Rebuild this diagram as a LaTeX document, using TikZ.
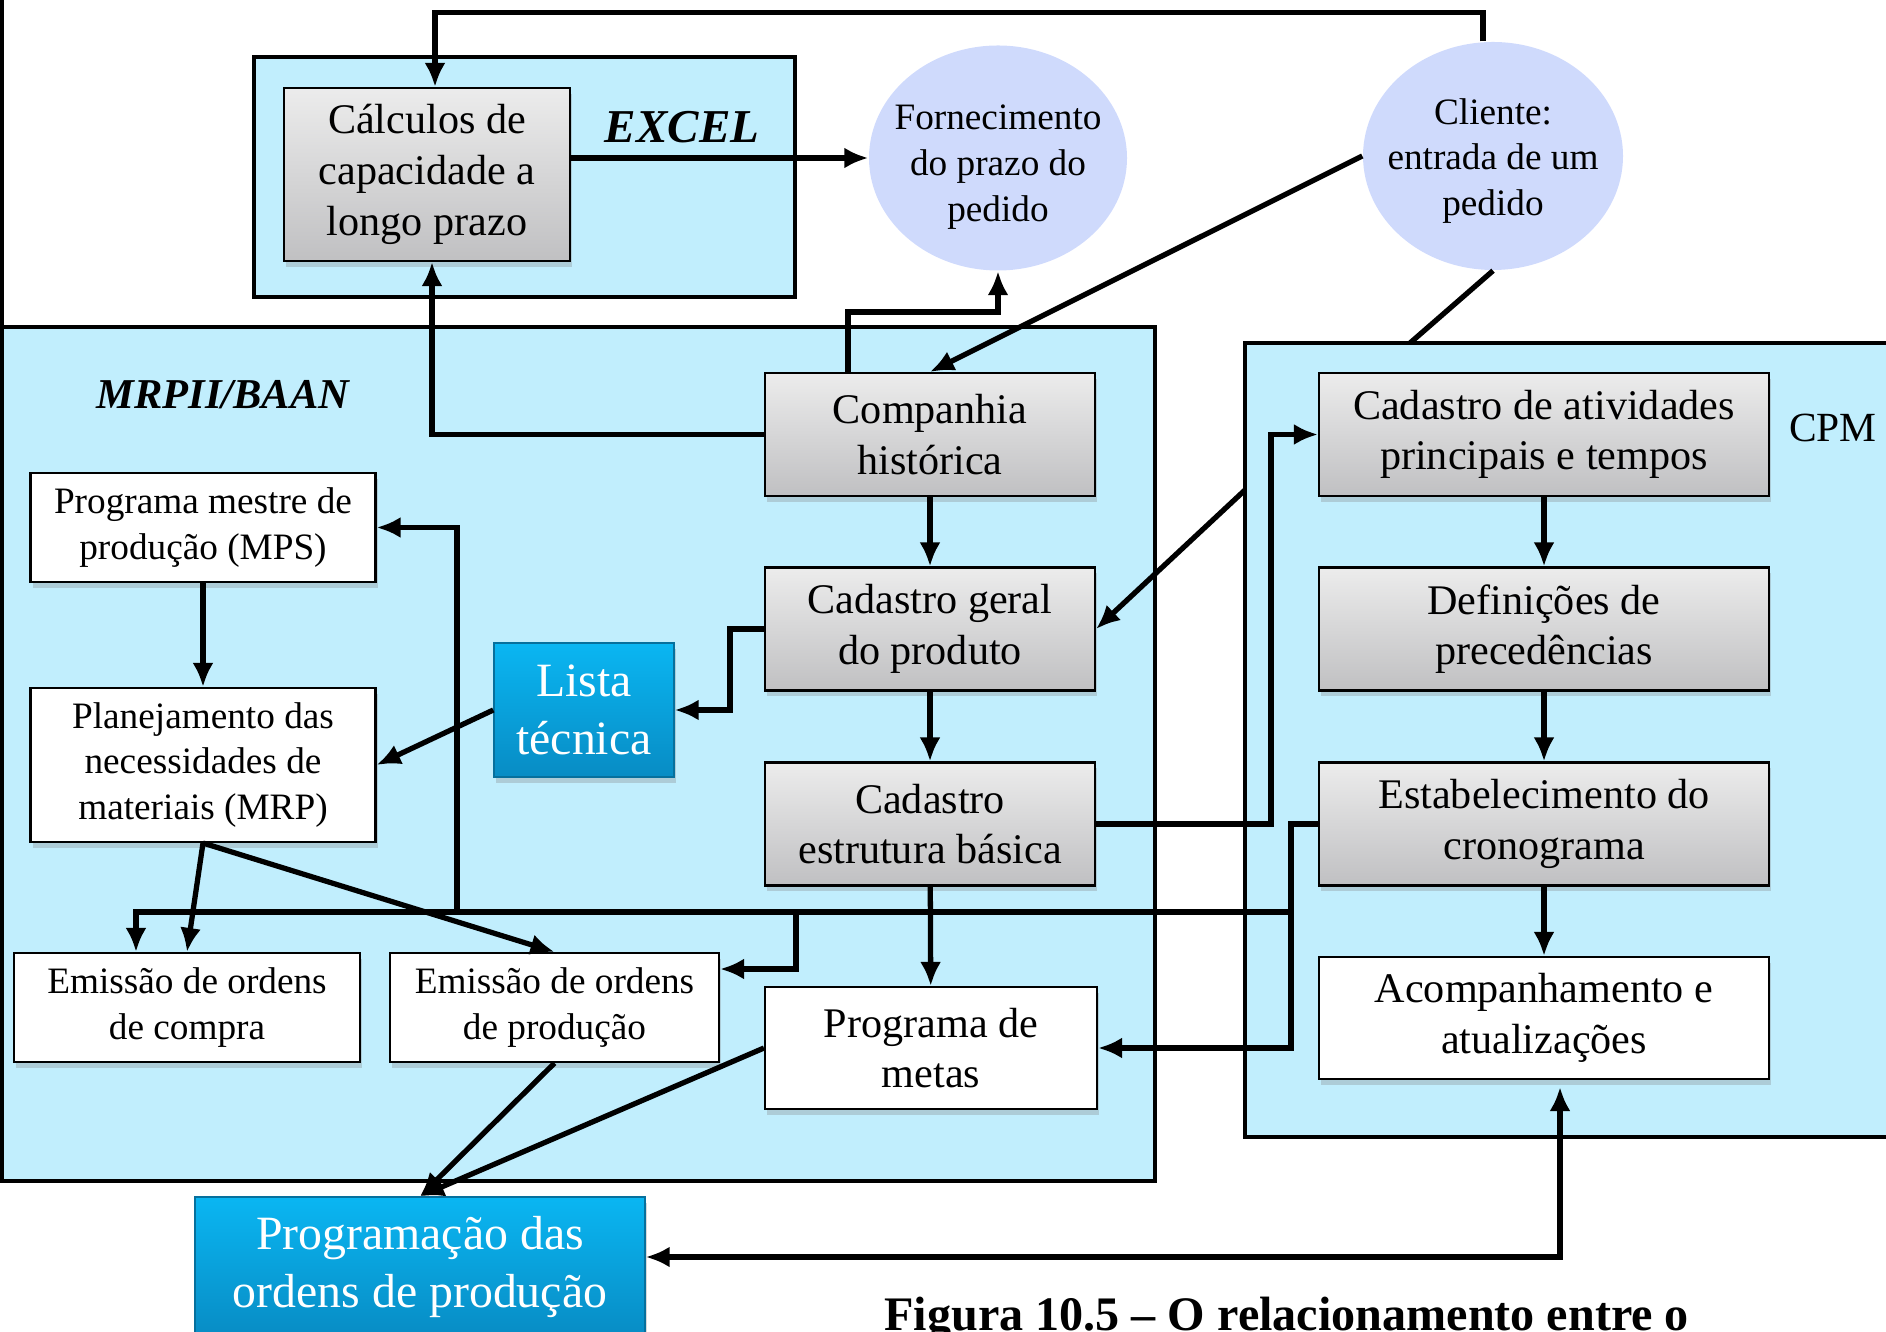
\documentclass[tikz,border=0pt]{standalone}
\usepackage{fontspec}
\setmainfont{Liberation Serif}
\usepackage{xcolor}
\usepackage{tikz}
\usetikzlibrary{shapes.geometric, arrows.meta, positioning, calc, shadows}

\definecolor{areafill}{RGB}{193,238,253}
\definecolor{ovalfill}{RGB}{207,218,252}
\definecolor{boxtop}{RGB}{236,236,236}
\definecolor{boxbot}{RGB}{192,192,194}
\definecolor{bluetop}{RGB}{10,182,242}
\definecolor{bluebot}{RGB}{8,140,196}

\begin{document}
\begin{tikzpicture}[
    >={Latex[length=2.4mm,width=2.1mm]},
    area/.style={draw=black, fill=areafill, line width=1.2pt},
    oval/.style={ellipse, fill=ovalfill, inner sep=0pt},
    ovaltext/.style={align=center, inner sep=0pt, font=\fontsize{10.6}{13}\selectfont},
    graybox/.style={draw=black, line width=0.6pt, top color=boxtop, bottom color=boxbot,
        align=center, inner sep=0pt, font=\fontsize{12}{14.4}\selectfont,
        drop shadow={shadow xshift=0.6pt, shadow yshift=-1.6pt, opacity=0.3}},
    whitebox/.style={graybox, top color=white, bottom color=white},
    smallbox/.style={whitebox, font=\fontsize{10.6}{13}\selectfont},
    bluebox/.style={draw=bluebot!80!black, line width=0.4pt, top color=bluetop, bottom color=bluebot,
        text=white, align=center, inner sep=0pt, font=\fontsize{13.6}{16.4}\selectfont,
        drop shadow={shadow xshift=0.6pt, shadow yshift=-1.6pt, opacity=0.3}},
    conn/.style={line width=1.5pt, ->},
    link/.style={line width=1.5pt}
]
\useasboundingbox (0,0) rectangle (18.86,-13.32);

% areas
\draw[line width=1pt] (0.02,0) -- (0.02,-3.27);
\draw[area] (2.54,-0.57) rectangle (7.95,-2.97);
\draw[area, line width=1pt] (0.02,-3.27) rectangle (11.55,-11.81);
\draw[area, line width=1pt] (12.45,-3.43) rectangle (19.6,-11.37);
\node[font=\fontsize{13.4}{16}\selectfont\bfseries\itshape] (excel) at (6.82,-1.27) {EXCEL};
\node[font=\fontsize{12.1}{14}\selectfont\bfseries\itshape] (mrpii) at (2.23,-3.95) {MRPII/BAAN};
\node[font=\fontsize{11.8}{14}\selectfont] (cpm) at (18.33,-4.28) {CPM};

% ovals
\node[oval, minimum width=2.58cm, minimum height=2.25cm] (forn) at (9.98,-1.58) {};
\node[ovaltext] (forntxt) at ([yshift=-0.09cm]forn.center) {Fornecimento\\do prazo do\\pedido};
\node[oval, minimum width=2.60cm, minimum height=2.28cm] (cli) at (14.93,-1.56) {};
\node[ovaltext] (clitxt) at ([yshift=-0.05cm]cli.center) {Cliente:\\entrada de um\\pedido};

% boxes
\node[graybox, minimum width=2.86cm, minimum height=1.73cm] (calc) at (4.27,-1.745) {Cálculos de\\capacidade a\\longo prazo};
\node[graybox, minimum width=3.30cm, minimum height=1.23cm] (comp) at (9.30,-4.345) {Companhia\\histórica};
\node[graybox, minimum width=3.30cm, minimum height=1.23cm] (geral) at (9.30,-6.29) {Cadastro geral\\do produto};
\node[graybox, minimum width=3.30cm, minimum height=1.23cm] (estr) at (9.30,-8.24) {Cadastro\\estrutura básica};
\node[whitebox, minimum width=3.32cm, minimum height=1.22cm] (metas) at (9.31,-10.48) {Programa de\\metas};
\node[graybox, minimum width=4.50cm, minimum height=1.23cm] (ativ) at (15.44,-4.345) {Cadastro de atividades\\principais e tempos};
\node[graybox, minimum width=4.50cm, minimum height=1.23cm] (prec) at (15.44,-6.29) {Definições de\\precedências};
\node[graybox, minimum width=4.50cm, minimum height=1.23cm] (crono) at (15.44,-8.24) {Estabelecimento do\\cronograma};
\node[whitebox, minimum width=4.50cm, minimum height=1.22cm] (acomp) at (15.44,-10.18) {Acompanhamento e\\atualizações};
\node[smallbox, minimum width=3.45cm, minimum height=1.09cm] (mps) at (2.03,-5.275) {Programa mestre de\\produção (MPS)};
\node[smallbox, minimum width=3.45cm, minimum height=1.54cm] (mrp) at (2.03,-7.65) {Planejamento das\\necessidades de\\materiais (MRP)};
\node[smallbox, minimum width=3.46cm, minimum height=1.09cm] (compra) at (1.87,-10.075) {Emissão de ordens\\de compra};
\node[smallbox, minimum width=3.29cm, minimum height=1.09cm] (prod) at (5.545,-10.075) {Emissão de ordens\\de produção};
\node[bluebox, minimum width=1.80cm, minimum height=1.34cm] (lista) at (5.84,-7.10) {Lista\\técnica};
\node[bluebox, minimum width=4.50cm, minimum height=1.40cm] (prog) at (4.20,-12.67) {Programação das\\ordens de produção};

\node[font=\fontsize{13.7}{16}\selectfont\bfseries, anchor=base west] (fig) at (8.72,-13.30) {Figura 10.5 – O relacionamento entre o};

% connectors
\coordinate (cpmw) at (12.45,-4.90);
\coordinate (cpmn) at (14.10,-3.43);
\coordinate (busr) at (12.91,-9.12);
\coordinate (busl) at (1.36,-9.12);
\coordinate (busp) at (7.96,-9.12);
\coordinate (busm) at (4.57,-9.12);

\draw[conn] ([xshift=-1mm]cli.north) -- ++(0,0.29) -| ([xshift=0.8mm]calc.north);
\draw[conn, line width=1.8pt] (calc.east |- forn.west) -- (forn.west);
\draw[conn] ([xshift=-0.82cm]comp.north) -- ++(0,0.6) -| (forn.south);
\draw[conn] (cli.west) -- (comp.north);
\draw[link] (cli.south) -- (cpmn);
\draw[conn] (comp.west) -| ([xshift=0.5mm]calc.south);
\draw[conn] (comp) -- (geral);
\draw[conn] (geral) -- (estr);
\draw[conn] (estr) -- (metas);
\draw[conn] (ativ) -- (prec);
\draw[conn] (prec) -- (crono);
\draw[conn] (crono) -- (acomp);
\draw[conn] (estr.east) -- ++(1.75,0) |- (ativ.west);
\draw[conn] (cpmw) -- (geral.east);
\draw[conn] (crono.west) -| (busr) |- (metas.east);
\draw[conn, line width=1.8pt] (busr) -- (busl) -- (busl |- compra.north);
\draw[conn] (busp) |- ([yshift=0.385cm]prod.east);
\draw[conn] (busm) |- (mps.east);
\draw[conn] (mps) -- (mrp);
\draw[conn] (geral.west) -- ++(-0.34,0) |- (lista.east);
\draw[conn] (lista.west) -- (mrp.east);
\draw[conn] (mrp.south) -- (compra.north);
\draw[conn] (mrp.south) -- (prod.north);
\draw[conn] (prod.south) -- (prog.north);
\draw[conn] (metas.west) -- (prog.north);
\draw[conn, <->, line width=1.8pt] ([yshift=1mm]prog.east) -| ([xshift=1.6mm,yshift=-0.7mm]acomp.south);
\end{tikzpicture}
\end{document}
